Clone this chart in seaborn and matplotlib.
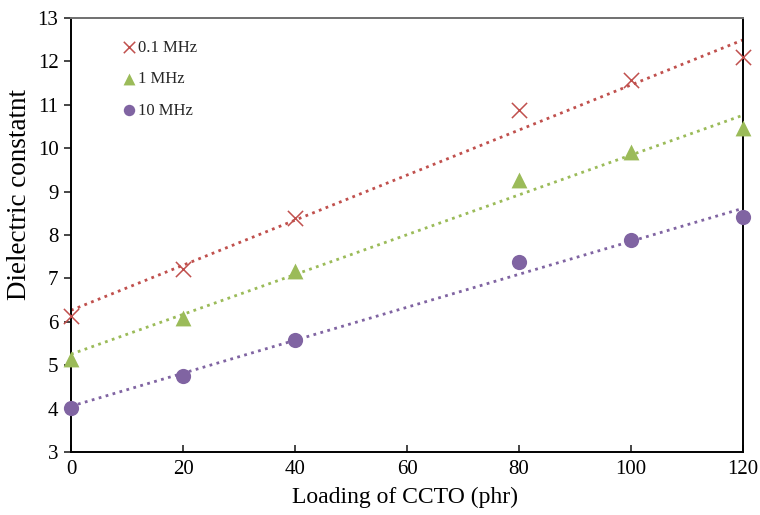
import numpy as np
import pandas as pd
import matplotlib
matplotlib.use("Agg")
import matplotlib.pyplot as plt
import seaborn as sns

loading = [0, 20, 40, 80, 100, 120]
eps_01MHz = [6.13, 7.22, 8.39, 10.88, 11.56, 12.10]
eps_1MHz = [5.14, 6.09, 7.17, 9.27, 9.91, 10.46]
eps_10MHz = [4.01, 4.75, 5.58, 7.37, 7.88, 8.42]
series_names = ["0.1 MHz", "1 MHz", "10 MHz"]
x_ticks = [0, 20, 40, 60, 80, 100, 120]
y_ticks = [3, 4, 5, 6, 7, 8, 9, 10, 11, 12, 13]

sns.set_theme(style="white")
plt.rcParams['font.family'] = ['Liberation Serif', 'DejaVu Serif']

fig = plt.figure(figsize=(7.6, 5.15), dpi=100)
ax = fig.add_axes([71/760, 1 - 452/515, (743-71)/760, (452-18)/515])

colors = ["#C0504D", "#9BBB59", "#8064A2"]
markers = ["x", "^", "o"]
sizes = [120, 130, 120]
values = [eps_01MHz, eps_1MHz, eps_10MHz]

for name, vals, c, m, s in zip(series_names, values, colors, markers, sizes):
    df = pd.DataFrame({"x": loading, "y": vals})
    sns.regplot(data=df, x="x", y="y", ax=ax, scatter=False, ci=None, truncate=True,
                line_kws=dict(color=c, linestyle=(0, (1, 1.6)), linewidth=2.0))
    if m == "x":
        sns.scatterplot(data=df, x="x", y="y", ax=ax, marker=m, s=s, color=c,
                        linewidth=1.1, label=name, zorder=3, clip_on=False)
    else:
        sns.scatterplot(data=df, x="x", y="y", ax=ax, marker=m, s=s, color=c,
                        edgecolor=c, linewidth=0, label=name, zorder=3, clip_on=False)

ax.set_xlim(0, 120)
ax.set_ylim(3, 13)
ax.set_xticks(x_ticks)
ax.set_yticks(y_ticks)
ax.tick_params(axis='y', direction='out', length=5, width=1.2, labelsize=15, pad=4, left=True)
ax.tick_params(axis='x', direction='in', length=5, width=1.2, labelsize=15, pad=6, bottom=True)
for lab in ax.get_xticklabels() + ax.get_yticklabels():
    lab.set_color("black")

for side in ["left", "bottom", "right"]:
    ax.spines[side].set_color("black")
    ax.spines[side].set_linewidth(1.4)
ax.spines["top"].set_color("#707070")
ax.spines["top"].set_linewidth(1.4)

ax.set_xlabel("Loading of CCTO (phr)", fontsize=17, color="black")
ax.set_ylabel("Dielectric constatnt", fontsize=19.5, color="black")
ax.xaxis.set_label_coords((405-71)/672, -(497-452)/434)
ax.yaxis.set_label_coords(-(71-20)/672, (452-195)/434)
ax.xaxis.label.set_va("center")
ax.yaxis.label.set_va("center")

leg = ax.legend(loc="upper left", bbox_to_anchor=(0.066, 0.965), frameon=False,
                fontsize=12, handlelength=0.8, handletextpad=0.15, labelspacing=0.92,
                markerscale=0.75, borderaxespad=0.0)

fig.savefig("out.png", dpi=100)
